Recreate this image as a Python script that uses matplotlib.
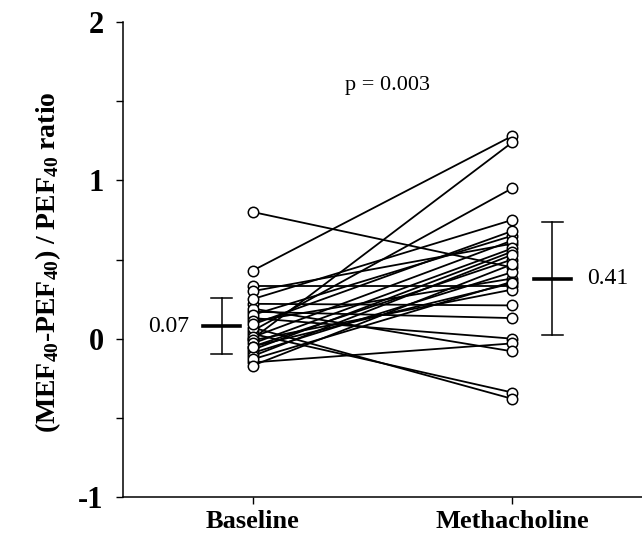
import matplotlib
matplotlib.use("Agg")
import matplotlib.pyplot as plt

# Paired values, baseline -> methacholine
baseline = [0.80, 0.43, 0.00, 0.05, 0.33, 0.22, 0.17, 0.13, -0.15, 0.03, 0.07, 0.19,
            0.30, 0.25, 0.15, 0.11, 0.09, 0.01, -0.01, -0.03, -0.05, -0.07, -0.09,
            -0.11, -0.13, -0.17, -0.05]
methacholine = [0.45, 1.28, 1.24, 0.95, 0.33, 0.21, 0.13, 0.00, -0.03, -0.34, -0.38, -0.08,
                0.60, 0.75, 0.65, 0.38, 0.68, 0.62, 0.31, 0.57, 0.50, 0.55, 0.42,
                0.53, 0.36, 0.47, 0.35]

# mean / SD bars as drawn, and the printed labels
mean_pos = [0.08, 0.38]
sd = [0.177, 0.356]
mean_labels = ["0.07", "0.41"]
groups = ["Baseline", "Methacholine"]
p_text = "p = 0.003"

plt.rcParams['mathtext.fontset'] = 'custom'
plt.rcParams['mathtext.rm'] = 'Liberation Serif:bold'
plt.rcParams['mathtext.default'] = 'rm'

fig = plt.figure(figsize=(6.42, 5.36), dpi=100)
ax = fig.add_axes([123/642, 1 - 497/536, 1 - 123/642, (497 - 22)/536])

x_base = 1
x_meth = 2
for b, m in zip(baseline, methacholine):
    ax.plot([x_base, x_meth], [b, m], color='black', linewidth=1.3,
            marker='o', markersize=7.5, markerfacecolor='white',
            markeredgecolor='black', markeredgewidth=1.1, zorder=3)

# mean +/- SD bars
bar_x = [x_base - 0.12, x_meth + 0.155]
for xb, mu, s in zip(bar_x, mean_pos, sd):
    ax.plot([xb, xb], [mu - s, mu + s], color='black', linewidth=1.1)
    ax.plot([xb - 0.04, xb + 0.04], [mu + s, mu + s], color='black', linewidth=1.1)
    ax.plot([xb - 0.04, xb + 0.04], [mu - s, mu - s], color='black', linewidth=1.1)
    ax.plot([xb - 0.072, xb + 0.072], [mu, mu], color='black', linewidth=2.6)

ax.text(x_base - 0.245, mean_pos[0], mean_labels[0], ha='right', va='center',
        family='Liberation Serif', fontsize=17)
ax.text(x_meth + 0.29, mean_pos[1], mean_labels[1], ha='left', va='center',
        family='Liberation Serif', fontsize=17)
ax.text(1.52, 1.60, p_text, ha='center', va='center',
        family='Liberation Serif', fontsize=16)

ax.set_xlim(0.5, 2.5)
ax.set_ylim(-1, 2)
ax.set_xticks([x_base, x_meth])
ax.set_xticklabels(groups, family='Liberation Serif', fontweight='bold', fontsize=19)
ax.set_yticks([-1, 0, 1, 2])
ax.set_yticklabels(['-1', '0', '1', '2'], family='Liberation Serif',
                   fontweight='bold', fontsize=22)
ax.set_yticks([-0.5, 0.5, 1.5], minor=True)
ax.tick_params(axis='both', which='both', direction='out', length=5, width=1.0)
ax.tick_params(axis='y', which='major', pad=9)
ax.tick_params(axis='x', which='major', pad=4)
for side in ['top', 'right']:
    ax.spines[side].set_visible(False)
for side in ['left', 'bottom']:
    ax.spines[side].set_linewidth(1.1)

fig.text(48/642, 1 - 262/536, r'(MEF$_{40}$-PEF$_{40}$) / PEF$_{40}$ ratio',
         rotation=90, ha='center', va='center', family='Liberation Serif',
         fontweight='bold', fontsize=20)

fig.savefig('out.png', dpi=100)
